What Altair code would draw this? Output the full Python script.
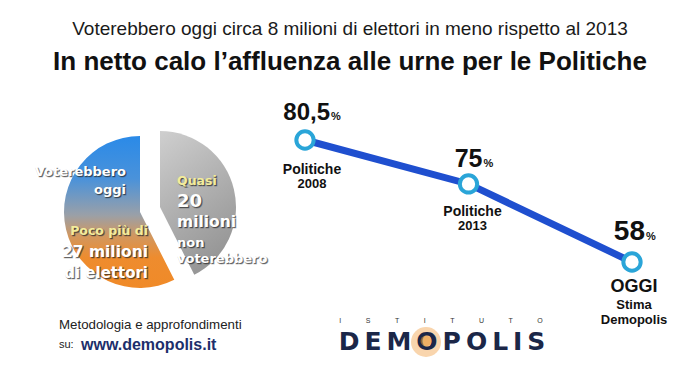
import altair as alt
import pandas as pd

# ---------------- data ----------------
categories = ["Politiche 2008", "Politiche 2013", "OGGI"]
turnout = [80.5, 75, 58]
value_labels = ["80,5", "75", "58"]
label_top = ["Politiche", "Politiche", "OGGI"]
label_mid = ["2008", "2013", "Stima"]
label_bot = ["", "", "Demopolis"]

pie_slices = ["Non voterebbero", "Voterebbero"]
pie_millions = [20, 27]

subtitle = "Voterebbero oggi circa 8 milioni di elettori in meno rispetto al 2013"
title = "In netto calo l\u2019affluenza alle urne per le Politiche"

W, H = 700, 376
SANS = "Liberation Sans, Arial, Helvetica, sans-serif"
PIEFONT = "DejaVu Sans, Verdana, sans-serif"

line_df = pd.DataFrame({
    "category": categories,
    "turnout": turnout,
    "vlabel": value_labels,
    "l1": label_top,
    "l2": label_mid,
    "l3": label_bot,
})
pie_df = pd.DataFrame({
    "slice": pie_slices,
    "millions": pie_millions,
    "ord": list(range(len(pie_slices))),
})

xs = alt.Scale(type="point", domain=categories, range=[305, 632], padding=0)
ys = alt.Scale(type="pow", exponent=4.7, domain=[58, 80.5], range=[262, 140], zero=False)
X = alt.X("category:N", scale=xs, axis=None)
Y = alt.Y("turnout:Q", scale=ys, axis=None)

base = alt.Chart(line_df)

line = base.mark_line(color="#1f4fcf", strokeWidth=7).encode(
    x=X, y=Y, order=alt.Order("turnout:Q", sort="descending"))
points = base.mark_point(filled=False, fill="white", fillOpacity=1, stroke="#2aa5d8",
                         strokeWidth=4, size=300, opacity=1).encode(x=X, y=Y)


def pt_text(cat, field, dx, dy, size, align="center", weight="bold", color="#111111", baseline="middle"):
    return base.transform_filter(alt.datum.category == cat).mark_text(
        font=SANS, fontSize=size, fontWeight=weight, color=color, align=align,
        baseline=baseline, dx=dx, dy=dy).encode(x=X, y=Y, text=f"{field}:N")


value_specs = [("Politiche 2008", 25, -20, 24), ("Politiche 2013", 14, -17, 25), ("OGGI", 13, -22, 28)]
vtexts = []
for cat, dx, dy, sz in value_specs:
    vtexts.append(pt_text(cat, "vlabel", dx, dy, sz, align="right", baseline="alphabetic"))
    vtexts.append(base.transform_filter(alt.datum.category == cat).mark_text(
        font=SANS, fontSize=11, fontWeight="bold", color="#111111", align="left",
        baseline="alphabetic", dx=dx + 1, dy=dy, text="%").encode(x=X, y=Y))

cat_texts = [
    pt_text("Politiche 2008", "l1", 7, 30, 14),
    pt_text("Politiche 2008", "l2", 7, 44, 13),
    pt_text("Politiche 2013", "l1", 4, 28, 14),
    pt_text("Politiche 2013", "l2", 4, 42, 13),
    pt_text("OGGI", "l1", 2, 25, 18),
    pt_text("OGGI", "l2", 2, 43, 13),
    pt_text("OGGI", "l3", 2, 58, 13),
]

# ---------------- pie ----------------
left_grad = alt.Gradient(
    gradient="linear", x1=0, y1=0, x2=0, y2=1,
    stops=[
        alt.GradientStop(color="#2a8ae8", offset=0),
        alt.GradientStop(color="#4a92da", offset=0.28),
        alt.GradientStop(color="#9aa0a8", offset=0.52),
        alt.GradientStop(color="#d2975e", offset=0.66),
        alt.GradientStop(color="#ee8c2e", offset=0.8),
        alt.GradientStop(color="#f08a28", offset=1),
    ])
grey_grad = alt.Gradient(
    gradient="linear", x1=0, y1=0, x2=0.4, y2=1,
    stops=[
        alt.GradientStop(color="#cfcfcf", offset=0),
        alt.GradientStop(color="#adadad", offset=0.6),
        alt.GradientStop(color="#979797", offset=1),
    ])

pie_base = alt.Chart(pie_df)
THETA = alt.Theta("millions:Q", stack=True)
ORDER = alt.Order("ord:Q")

pie_left = pie_base.mark_arc(radius=76, fill=left_grad, strokeWidth=0).encode(
    theta=THETA, order=ORDER,
    x=alt.value(140), y=alt.value(212),
    opacity=alt.condition(alt.datum.slice == "Voterebbero", alt.value(1), alt.value(0)),
)
pie_right = pie_base.mark_arc(radius=76, fill=grey_grad, strokeWidth=0).encode(
    theta=THETA, order=ORDER,
    x=alt.value(160), y=alt.value(207),
    opacity=alt.condition(alt.datum.slice == "Non voterebbero", alt.value(1), alt.value(0)),
)


def free_text(txt, x, y, size, color="#111111", weight="normal", align="center", font=SANS,
              baseline="middle", opacity=1.0, **kw):
    return alt.Chart(pd.DataFrame({"t": [txt]})).mark_text(
        font=font, fontSize=size, fontWeight=weight, color=color, align=align,
        baseline=baseline, opacity=opacity, **kw).encode(
        x=alt.value(x), y=alt.value(y), text="t:N")


def pie_text(txt, x, y, size, color="white", align="left"):
    # dark drop shadow underneath, light text on top
    return [
        free_text(txt, x + 1, y + 1, size, color="#262626", weight="bold", align=align,
                  font=PIEFONT, opacity=0.7, stroke="#262626", strokeWidth=1.2, strokeOpacity=0.35),
        free_text(txt, x, y, size, color=color, weight="bold", align=align, font=PIEFONT),
    ]


pie_texts = []
for args, kw in [
    (("Voterebbero", 126, 172, 13), dict(align="right")),
    (("oggi", 126, 190, 13), dict(align="right")),
    (("Poco più di", 148, 231, 12.5), dict(color="#f3ec9c", align="right")),
    (("27 milioni", 148, 252, 15.5), dict(align="right")),
    (("di elettori", 148, 273, 15), dict(align="right")),
    (("Quasi", 177, 181, 12.5), dict(color="#f3ec9c", align="left")),
    (("20", 177, 202, 18), dict(align="left")),
    (("milioni", 177, 222, 15.5), dict(align="left")),
    (("non", 177, 243, 13), dict(align="left")),
    (("voterebbero", 177, 259, 13), dict(align="left")),
]:
    pie_texts += pie_text(*args, **kw)

# ---------------- titles & footer ----------------
texts = [
    free_text(subtitle, 350, 29, 19, color="#1a1a1a"),
    free_text(title, 350, 62, 26, color="#111111", weight="bold"),
    free_text("Metodologia e approfondimenti", 59, 325, 13.3, color="#222222", align="left"),
    free_text("su:", 59, 345, 11, color="#222222", align="left"),
    free_text("www.demopolis.it", 81, 345, 16, color="#1d2f6b", weight="bold", align="left"),
]

glow = alt.Chart(pd.DataFrame({"t": ["o"]})).mark_circle(color="#f2a24a", opacity=0.45, size=900).encode(
    x=alt.value(426), y=alt.value(342))
glow2 = alt.Chart(pd.DataFrame({"t": ["o"]})).mark_circle(color="#e8902a", opacity=0.55, size=120).encode(
    x=alt.value(426), y=alt.value(341))
sp = "\u2003\u2003\u2003\u2002"
logo = [
    glow,
    free_text(sp.join(list("ISTITUTO")), 441, 321, 7, color="#333333"),
    free_text("\u2009".join(list("DEMOPOLIS")), 442, 342, 25, color="#1b2748", weight="bold",
              font="DejaVu Sans, Verdana, sans-serif"),
    glow2,
]

chart = alt.layer(
    pie_left, pie_right, *pie_texts,
    line, points, *vtexts, *cat_texts,
    *texts, *logo,
).properties(
    width=W, height=H, padding=0, background="white",
    autosize=alt.AutoSizeParams(type="none"),
).configure_view(strokeWidth=0)

chart.save("out.html", embed_options={"renderer": "svg", "actions": False})
